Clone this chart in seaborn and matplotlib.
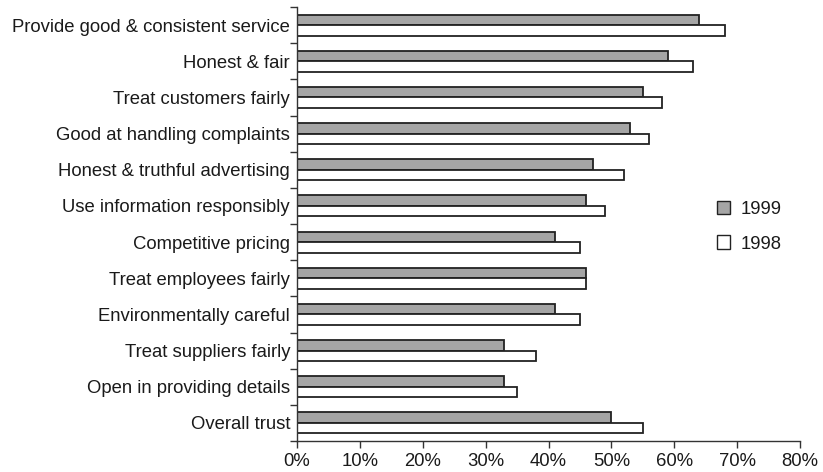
import matplotlib
matplotlib.use("Agg")
import matplotlib.pyplot as plt
import seaborn as sns
import pandas as pd
from matplotlib.ticker import FixedLocator, PercentFormatter

categories = [
    "Provide good & consistent service",
    "Honest & fair",
    "Treat customers fairly",
    "Good at handling complaints",
    "Honest & truthful advertising",
    "Use information responsibly",
    "Competitive pricing",
    "Treat employees fairly",
    "Environmentally careful",
    "Treat suppliers fairly",
    "Open in providing details",
    "Overall trust",
]
values_1999 = [64, 59, 55, 53, 47, 46, 41, 46, 41, 33, 33, 50]
values_1998 = [68, 63, 58, 56, 52, 49, 45, 46, 45, 38, 35, 55]
years = ["1999", "1998"]
x_ticks = [0, 10, 20, 30, 40, 50, 60, 70, 80]

df = pd.DataFrame({
    "category": categories * 2,
    "year": ["1999"] * len(categories) + ["1998"] * len(categories),
    "value": values_1999 + values_1998,
})

sns.set_style("white")
plt.rcParams["font.family"] = ["Liberation Sans", "DejaVu Sans"]
text_color = "#1a1a1a"
fs = 13.3

fig = plt.figure(figsize=(8.23, 4.72), dpi=100)
ax = fig.add_axes([297 / 823, 1 - 441 / 472, (800 - 297) / 823, (441 - 7) / 472])

sns.barplot(
    data=df, y="category", x="value", hue="year", hue_order=years,
    order=categories, orient="h", width=0.58, ax=ax,
    palette={"1999": "#a5a5a5", "1998": "#ffffff"},
    edgecolor="#222222", linewidth=1.3, legend=False,
)

ax.set_xlim(0, 80)
ax.set_ylim(len(categories) - 0.5, -0.5)
ax.set_xticks(x_ticks)
ax.xaxis.set_major_formatter(PercentFormatter(decimals=0))
ax.set_xlabel("")
ax.set_ylabel("")

# category labels centred, tick marks on category boundaries
ax.tick_params(axis="y", which="major", length=0, labelsize=fs, pad=5, labelcolor=text_color)
ax.yaxis.set_minor_locator(FixedLocator([i - 0.5 for i in range(len(categories) + 1)]))
ax.tick_params(axis="y", which="minor", length=5, width=1, color="#333333", direction="out", left=True)
ax.tick_params(axis="x", length=5, width=1, color="#333333", direction="out",
               labelsize=fs, bottom=True, labelcolor=text_color, pad=4)

for s in ["top", "right"]:
    ax.spines[s].set_visible(False)
for s in ["left", "bottom"]:
    ax.spines[s].set_color("#333333")
    ax.spines[s].set_linewidth(1)

handles = [
    plt.Rectangle((0, 0), 1, 1, facecolor="#a5a5a5", edgecolor="#222222", linewidth=1),
    plt.Rectangle((0, 0), 1, 1, facecolor="#ffffff", edgecolor="#222222", linewidth=1),
]
leg = fig.legend(handles, years, loc="upper left", bbox_to_anchor=(700 / 823, 1 - 184 / 472),
                 frameon=False, fontsize=fs, handlelength=0.75, handleheight=0.75,
                 labelspacing=0.95, handletextpad=0.55)
for t in leg.get_texts():
    t.set_color(text_color)

fig.savefig("out.png", dpi=100)
